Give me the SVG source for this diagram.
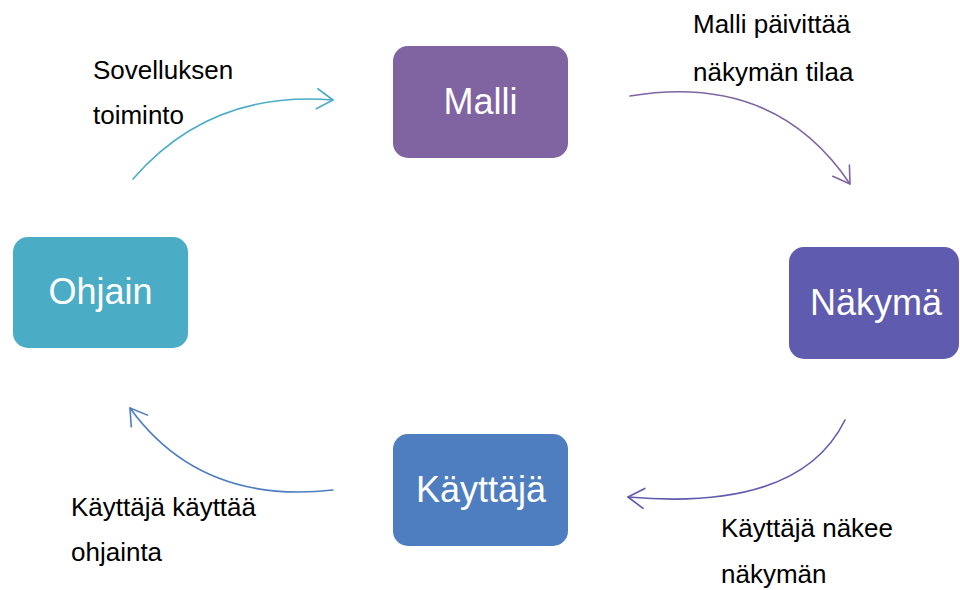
<svg xmlns="http://www.w3.org/2000/svg" width="960" height="590" viewBox="0 0 960 590">
  <style>
    .node-text { font-family: "Liberation Sans", Arial, sans-serif; font-size: 36px; fill: #ffffff; text-anchor: middle; }
    .label { font-family: "Liberation Sans", Arial, sans-serif; font-size: 26px; fill: #000000; }
    .conn { fill: none; stroke-width: 1.6; stroke-linecap: round; }
  </style>
  <defs>
    <marker id="a-teal" markerUnits="userSpaceOnUse" markerWidth="30" markerHeight="30" refX="0" refY="0" viewBox="-20 -15 25 30" orient="auto">
      <path d="M-16,-10 L0,0 L-16,10" fill="none" stroke="#4BACC6" stroke-width="1.6" stroke-linecap="round" stroke-linejoin="round"/>
    </marker>
    <marker id="a-purple" markerUnits="userSpaceOnUse" markerWidth="30" markerHeight="30" refX="0" refY="0" viewBox="-20 -15 25 30" orient="auto">
      <path d="M-16,-10 L0,0 L-16,10" fill="none" stroke="#8064A2" stroke-width="1.6" stroke-linecap="round" stroke-linejoin="round"/>
    </marker>
    <marker id="a-violet" markerUnits="userSpaceOnUse" markerWidth="30" markerHeight="30" refX="0" refY="0" viewBox="-20 -15 25 30" orient="auto">
      <path d="M-16,-10 L0,0 L-16,10" fill="none" stroke="#5F5BAE" stroke-width="1.6" stroke-linecap="round" stroke-linejoin="round"/>
    </marker>
    <marker id="a-blue" markerUnits="userSpaceOnUse" markerWidth="30" markerHeight="30" refX="0" refY="0" viewBox="-20 -15 25 30" orient="auto">
      <path d="M-16,-10 L0,0 L-16,10" fill="none" stroke="#4F7EC0" stroke-width="1.6" stroke-linecap="round" stroke-linejoin="round"/>
    </marker>
  </defs>
  <rect width="960" height="590" fill="#ffffff"/>

  <g id="node-malli">
    <rect x="393" y="46" width="175" height="112" rx="15" fill="#8064A2"/>
    <text class="node-text" x="480.5" y="114">Malli</text>
  </g>
  <g id="node-nakyma">
    <rect x="789" y="247" width="170" height="112" rx="15" fill="#5F5BAE"/>
    <text class="node-text" x="876" y="315">Näkymä</text>
  </g>
  <g id="node-kayttaja">
    <rect x="393" y="434" width="175" height="112" rx="15" fill="#4F7EC0"/>
    <text class="node-text" x="481" y="502">Käyttäjä</text>
  </g>
  <g id="node-ohjain">
    <rect x="13" y="237" width="175" height="111" rx="15" fill="#4BACC6"/>
    <text class="node-text" x="100.5" y="304">Ohjain</text>
  </g>

  <g id="connectors">
    <path class="conn" d="M133,179 Q210,90 333,100" stroke="#4BACC6" marker-end="url(#a-teal)"/>
    <path class="conn" d="M630,96 Q775,72 850,184" stroke="#8064A2" marker-end="url(#a-purple)"/>
    <path class="conn" d="M845,420 Q800,512 628,497" stroke="#5F5BAE" marker-end="url(#a-violet)"/>
    <path class="conn" d="M333,490 Q200,505 130,408" stroke="#4F7EC0" marker-end="url(#a-blue)"/>
  </g>

  <g id="labels">
    <text class="label" x="93" y="79">Sovelluksen</text>
    <text class="label" x="93" y="124">toiminto</text>
    <text class="label" x="693" y="33">Malli päivittää</text>
    <text class="label" x="693" y="81">näkymän tilaa</text>
    <text class="label" x="721" y="537">Käyttäjä näkee</text>
    <text class="label" x="721" y="583">näkymän</text>
    <text class="label" x="71" y="516">Käyttäjä käyttää</text>
    <text class="label" x="71" y="561">ohjainta</text>
  </g>
</svg>
